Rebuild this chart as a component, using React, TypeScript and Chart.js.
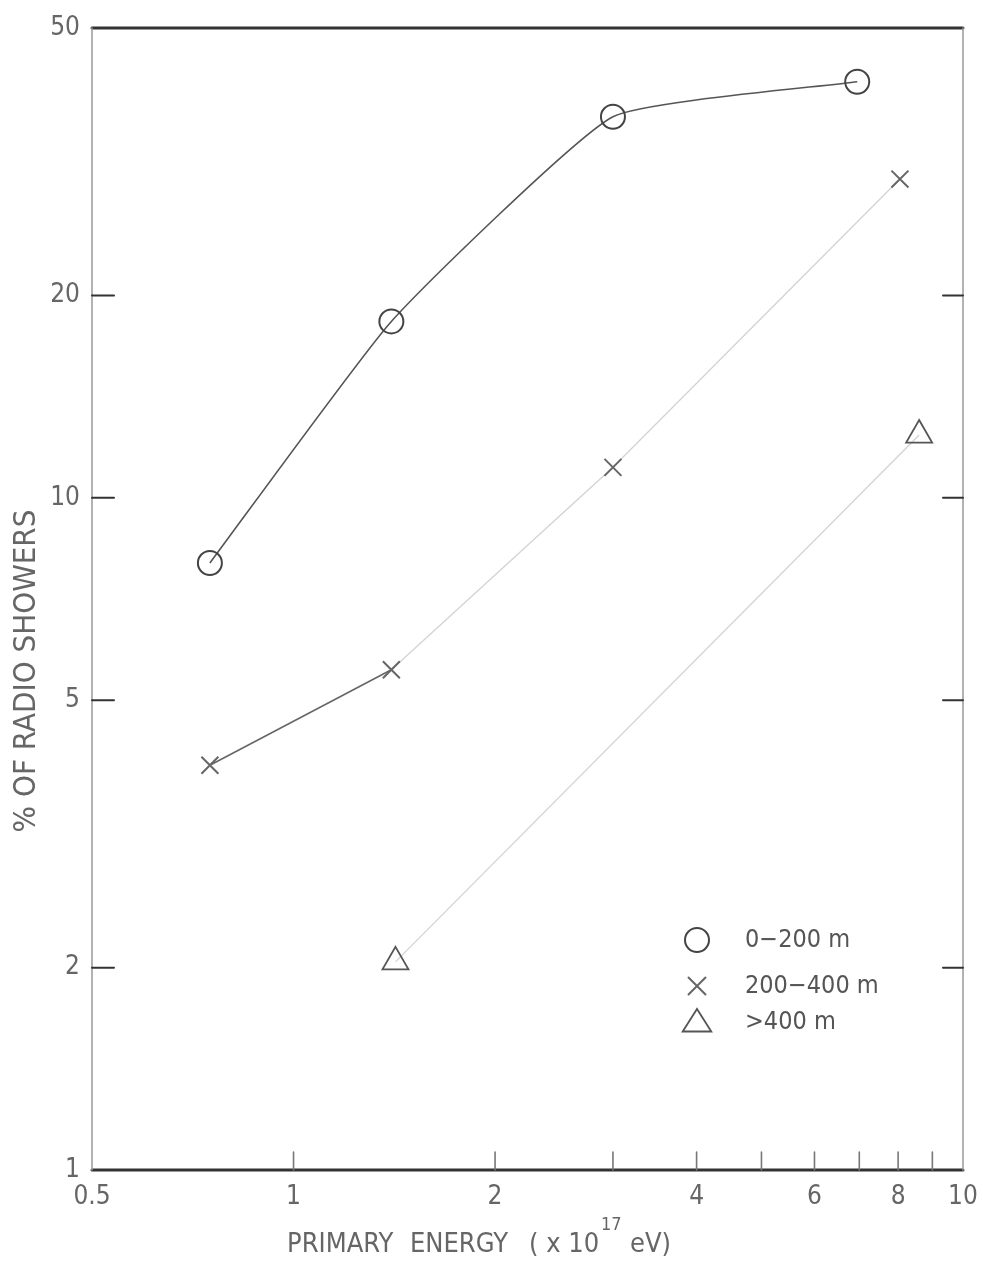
import React, { useEffect, useRef } from 'react';
import { Chart, registerables } from 'chart.js';
Chart.register(...registerables);

const energyCircle = [0.75, 1.4, 3.0, 6.95];
const pctCircle = [8.0, 18.3, 36.9, 41.6];
const energyCross = [0.75, 1.4, 3.0, 8.05];
const pctCross = [4.0, 5.55, 11.1, 29.8];
const energyTri = [1.42, 8.6];
const pctTri = [2.04, 12.4];
const xTickValues = [0.5, 1, 2, 4, 6, 8, 10];
const yTickValues = [1, 2, 5, 10, 20, 50];
const xInnerTicks = [1, 2, 3, 4, 5, 6, 7, 8, 9];
const yInnerTicks = [2, 5, 10, 20];
const legendLabels = ['0\u2212200 m', '200\u2212400 m', '>400 m'];
const xTitleParts = ['PRIMARY', 'ENERGY', '( x 10', '17', 'eV)'];
const yTitle = '% OF RADIO SHOWERS';

const FONT = '"DejaVu Sans Condensed", "DejaVu Sans", sans-serif';
const TEXT = '#666';

const toPts = (xs: number[], ys: number[]) => xs.map((x, i) => ({ x, y: ys[i] }));

function drawMarker(ctx: CanvasRenderingContext2D, style: string, r: number, x: number, y: number) {
  ctx.beginPath();
  if (style === 'circle') {
    ctx.arc(x, y, r, 0, Math.PI * 2);
  } else if (style === 'crossRot') {
    const d = r * Math.SQRT1_2;
    ctx.moveTo(x - d, y - d);
    ctx.lineTo(x + d, y + d);
    ctx.moveTo(x + d, y - d);
    ctx.lineTo(x - d, y + d);
  } else if (style === 'triangle') {
    const h = r * 1.5;
    const half = (r * Math.sqrt(3)) / 2;
    ctx.moveTo(x - half * 1.1, y + h / 3 + 2);
    ctx.lineTo(x, y - (2 * h) / 3 + 2);
    ctx.lineTo(x + half * 1.1, y + h / 3 + 2);
    ctx.closePath();
  }
  ctx.stroke();
}

const decor = {
  id: 'decor',
  afterDraw(chart: any) {
    const { ctx, chartArea: a, scales } = chart;
    const xs = scales.x;
    const ys = scales.y;
    ctx.save();
    // frame
    ctx.lineCap = 'round';
    ctx.strokeStyle = '#333';
    ctx.lineWidth = 3;
    ctx.beginPath();
    ctx.moveTo(a.left, a.top);
    ctx.lineTo(a.right, a.top);
    ctx.moveTo(a.left, a.bottom);
    ctx.lineTo(a.right, a.bottom);
    ctx.stroke();
    ctx.strokeStyle = '#999';
    ctx.lineWidth = 1.5;
    ctx.beginPath();
    ctx.moveTo(a.left, a.top);
    ctx.lineTo(a.left, a.bottom);
    ctx.moveTo(a.right, a.top);
    ctx.lineTo(a.right, a.bottom);
    ctx.stroke();
    // inner ticks
    ctx.strokeStyle = '#777';
    ctx.lineWidth = 1.6;
    ctx.beginPath();
    xInnerTicks.forEach((v) => {
      const px = xs.getPixelForValue(v);
      ctx.moveTo(px, a.bottom);
      ctx.lineTo(px, a.bottom - 18);
    });
    ctx.stroke();
    ctx.strokeStyle = '#333';
    ctx.lineWidth = 2;
    ctx.beginPath();
    yInnerTicks.forEach((v) => {
      const py = ys.getPixelForValue(v);
      ctx.moveTo(a.left, py);
      ctx.lineTo(a.left + 22, py);
      ctx.moveTo(a.right - 20, py);
      ctx.lineTo(a.right, py);
    });
    ctx.stroke();
    // y title
    ctx.fillStyle = TEXT;
    ctx.textBaseline = 'middle';
    ctx.font = `31px ${FONT}`;
    ctx.save();
    ctx.translate(27, 671);
    ctx.rotate(-Math.PI / 2);
    ctx.textAlign = 'center';
    ctx.fillText(yTitle, 0, 0);
    ctx.restore();
    // x title
    const yT = 1245;
    ctx.textAlign = 'left';
    ctx.font = `27px ${FONT}`;
    ctx.fillText(xTitleParts[0], 287, yT);
    ctx.fillText(xTitleParts[1], 410, yT);
    ctx.fillText(xTitleParts[2], 529, yT);
    ctx.font = `18px ${FONT}`;
    ctx.fillText(xTitleParts[3], 601, yT - 20);
    ctx.font = `27px ${FONT}`;
    ctx.fillText(xTitleParts[4], 630, yT);
    // legend
    const ds = chart.data.datasets;
    const rows = [940, 986, 1022];
    rows.forEach((ry, i) => {
      const d = ds[i];
      ctx.save();
      ctx.strokeStyle = d.pointBorderColor;
      ctx.lineWidth = d.pointBorderWidth;
      drawMarker(ctx, d.pointStyle, d.pointRadius, 697, ry);
      ctx.restore();
      ctx.fillStyle = '#555';
      ctx.font = `25px ${FONT}`;
      ctx.textAlign = 'left';
      ctx.textBaseline = 'middle';
      ctx.fillText(legendLabels[i], 745, ry);
    });
    ctx.restore();
  },
};

export default function App() {
  const ref = useRef<HTMLCanvasElement>(null);
  useEffect(() => {
    document.body.style.margin = '0';
    const chart = new Chart(ref.current as HTMLCanvasElement, {
      type: 'scatter',
      data: {
        datasets: [
          {
            label: legendLabels[0],
            data: toPts(energyCircle, pctCircle),
            showLine: true,
            borderColor: '#555',
            borderWidth: 1.6,
            tension: 0.14,
            pointStyle: 'circle',
            pointRadius: 12,
            pointBorderWidth: 2,
            pointBorderColor: '#444',
            pointBackgroundColor: 'rgba(255,255,255,0)',
          } as any,
          {
            label: legendLabels[1],
            data: toPts(energyCross, pctCross),
            showLine: true,
            borderColor: '#d4d4d4',
            borderWidth: 1.4,
            segment: {
              borderColor: (c: any) => (c.p0DataIndex === 0 ? '#666' : '#d4d4d4'),
              borderWidth: (c: any) => (c.p0DataIndex === 0 ? 1.6 : 1.4),
            },
            pointStyle: 'crossRot',
            pointRadius: 12,
            pointBorderWidth: 2,
            pointBorderColor: '#666',
          } as any,
          {
            label: legendLabels[2],
            data: toPts(energyTri, pctTri),
            showLine: true,
            borderColor: '#d4d4d4',
            borderWidth: 1.4,
            pointStyle: 'triangle',
            pointRadius: 15,
            pointBorderWidth: 1.8,
            pointBorderColor: '#555',
            pointBackgroundColor: 'rgba(255,255,255,0)',
          } as any,
        ],
      },
      options: {
        animation: false,
        responsive: false,
        layout: { padding: { top: 28, right: 20, left: 0, bottom: 0 } },
        plugins: { legend: { display: false }, tooltip: { enabled: false } },
        scales: {
          x: {
            type: 'logarithmic',
            min: 0.5,
            max: 10,
            grid: { display: false, drawTicks: false },
            border: { display: false },
            afterBuildTicks: (s: any) => {
              s.ticks = xTickValues.map((v) => ({ value: v }));
            },
            afterFit: (s: any) => {
              s.height = 91;
              s.paddingRight = 0;
              s.paddingLeft = 0;
            },
            ticks: {
              autoSkip: false,
              maxRotation: 0,
              padding: 12,
              color: TEXT,
              font: { family: FONT, size: 26 },
              callback: (v: any) => String(v),
            },
          },
          y: {
            type: 'logarithmic',
            min: 1,
            max: 50,
            grid: { display: false, drawTicks: false },
            border: { display: false },
            afterBuildTicks: (s: any) => {
              s.ticks = yTickValues.map((v) => ({ value: v }));
            },
            afterFit: (s: any) => {
              s.width = 92;
              s.paddingTop = 0;
              s.paddingBottom = 0;
            },
            ticks: {
              autoSkip: false,
              padding: 12,
              color: TEXT,
              font: { family: FONT, size: 26 },
              callback: (v: any) => String(v),
            },
          },
        },
      } as any,
      plugins: [decor],
    });
    return () => chart.destroy();
  }, []);
  return (
    <div style={{ width: 983, height: 1261, background: '#fff' }}>
      <canvas ref={ref} width={983} height={1261} style={{ display: 'block' }} />
    </div>
  );
}
